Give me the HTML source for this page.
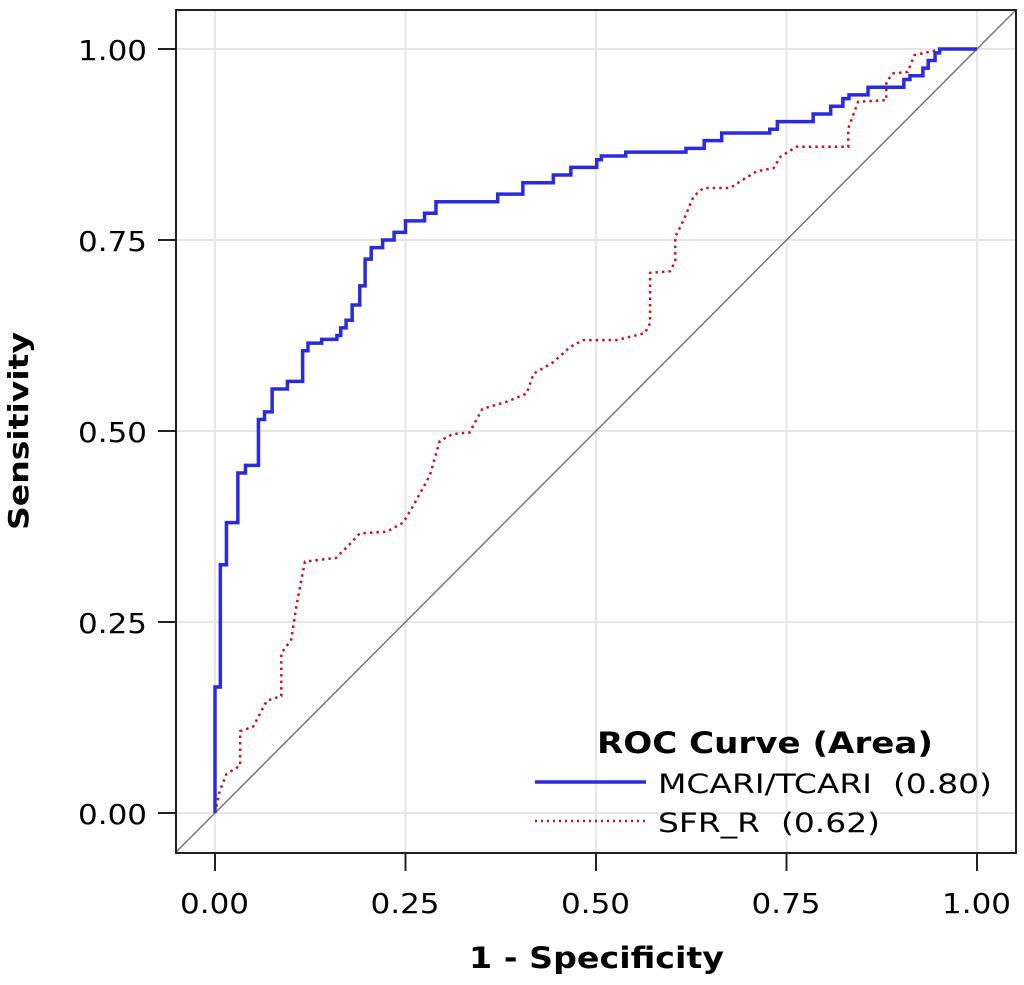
<!DOCTYPE html>
<html><head><meta charset="utf-8"><style>
html,body{margin:0;padding:0;background:#fff;}
svg{display:block;font-family:"DejaVu Sans","Liberation Sans",sans-serif;}
</style></head><body>
<svg id="chart" width="1024" height="985" viewBox="0 0 1024 985">
<rect x="176" y="10" width="840" height="843" fill="#fff"/>
<g id="grid"></g>
<g id="ticks"></g>
<line id="diag" stroke="#777" stroke-width="1.5"/>
<polyline id="red" fill="none" stroke="#cc1122" stroke-width="2.5" stroke-dasharray="2.5,4"/>
<polyline id="blue" fill="none" stroke="#2a2ae0" stroke-width="3.5"/>
<rect x="176" y="10" width="840" height="843" fill="none" stroke="#222" stroke-width="2"/>
<text x="20" y="431" transform="rotate(-90 20 431)" text-anchor="middle" dominant-baseline="middle" font-size="28" font-weight="bold" textLength="198" lengthAdjust="spacingAndGlyphs">Sensitivity</text>
<text x="469" y="968" font-size="29" font-weight="bold" textLength="255" lengthAdjust="spacingAndGlyphs">1 - Specificity</text>
<g>
<text x="597" y="753" font-size="29" font-weight="bold" textLength="336" lengthAdjust="spacingAndGlyphs">ROC Curve (Area)</text>
<line x1="535" y1="782" x2="646" y2="782" stroke="#2a2ae0" stroke-width="3.5"/>
<text x="658" y="793" font-size="27" textLength="334" lengthAdjust="spacingAndGlyphs" xml:space="preserve">MCARI/TCARI  (0.80)</text>
<line x1="535" y1="821" x2="646" y2="821" stroke="#cc1122" stroke-width="2.5" stroke-dasharray="2,4"/>
<text x="658" y="832" font-size="27" textLength="222" lengthAdjust="spacingAndGlyphs" xml:space="preserve">SFR_R  (0.62)</text>
</g>
</svg>
<script>
const tickValues=[0,0.25,0.5,0.75,1];
const tickLabels=["0.00","0.25","0.50","0.75","1.00"];
const blueX=[0,0,0.007,0.015,0.03,0.04,0.057,0.065,0.075,0.095,0.115,0.122,0.14,0.16,0.165,0.172,0.18,0.19,0.197,0.205,0.22,0.235,0.25,0.275,0.29,0.371,0.404,0.444,0.467,0.501,0.507,0.539,0.618,0.642,0.665,0.728,0.738,0.785,0.808,0.824,0.832,0.857,0.904,0.912,0.929,0.936,0.945,0.951,1];
const blueY=[0,0.165,0.325,0.38,0.445,0.455,0.515,0.525,0.555,0.565,0.605,0.615,0.62,0.625,0.635,0.645,0.665,0.69,0.725,0.74,0.75,0.76,0.775,0.785,0.80,0.81,0.825,0.835,0.845,0.855,0.86,0.865,0.87,0.88,0.89,0.895,0.905,0.915,0.925,0.935,0.94,0.95,0.96,0.965,0.975,0.985,0.995,1.0,1.0];
const redX=[0,0.006,0.015,0.033,0.033,0.05,0.068,0.087,0.087,0.1,0.107,0.118,0.159,0.176,0.19,0.225,0.247,0.26,0.282,0.295,0.312,0.334,0.351,0.382,0.409,0.418,0.444,0.466,0.483,0.527,0.564,0.571,0.571,0.597,0.604,0.604,0.615,0.628,0.641,0.676,0.693,0.711,0.733,0.742,0.763,0.831,0.831,0.844,0.881,0.881,0.89,0.909,0.918,0.945,0.951,1];
const redY=[0,0.028,0.051,0.062,0.107,0.113,0.147,0.153,0.209,0.227,0.272,0.329,0.334,0.351,0.366,0.368,0.38,0.402,0.442,0.487,0.496,0.498,0.529,0.538,0.549,0.575,0.59,0.61,0.619,0.619,0.628,0.641,0.707,0.709,0.722,0.754,0.776,0.807,0.818,0.818,0.829,0.84,0.844,0.859,0.872,0.872,0.896,0.931,0.933,0.957,0.968,0.97,0.992,0.998,1,1];
const NS='http://www.w3.org/2000/svg';
function sx(v){return 215+v*762;}
function sy(v){return 813-v*764;}
const grid=document.getElementById('grid'),ticks=document.getElementById('ticks');
tickValues.forEach((v,i)=>{
 let gv=document.createElementNS(NS,'line');
 
 
 gv.setAttribute('x1',sx(v));gv.setAttribute('x2',sx(v));gv.setAttribute('y1',10);gv.setAttribute('y2',853);
 gv.setAttribute('stroke','#e6e6e6');gv.setAttribute('stroke-width','2');grid.appendChild(gv);
 let gh=document.createElementNS(NS,'line');
 
 
 gh.setAttribute('y1',sy(v));gh.setAttribute('y2',sy(v));gh.setAttribute('x1',176);gh.setAttribute('x2',1016);
 gh.setAttribute('stroke','#e6e6e6');gh.setAttribute('stroke-width','2');grid.appendChild(gh);
 let mx=document.createElementNS(NS,'line');
 
 
 mx.setAttribute('x1',sx(v));mx.setAttribute('x2',sx(v));mx.setAttribute('y1',853);mx.setAttribute('y2',871);
 mx.setAttribute('stroke','#222');mx.setAttribute('stroke-width','2');ticks.appendChild(mx);
 let my=document.createElementNS(NS,'line');
 
 
 my.setAttribute('y1',sy(v));my.setAttribute('y2',sy(v));my.setAttribute('x1',158);my.setAttribute('x2',176);
 my.setAttribute('stroke','#222');my.setAttribute('stroke-width','2');ticks.appendChild(my);
 let tx=document.createElementNS(NS,'text');
 
 
 tx.setAttribute('x',sx(v)-35);tx.setAttribute('y',913);tx.setAttribute('font-size','28');
 tx.setAttribute('textLength','69');tx.setAttribute('lengthAdjust','spacingAndGlyphs');
 tx.textContent=tickLabels[i];ticks.appendChild(tx);
 let ty=document.createElementNS(NS,'text');
 
 
 ty.setAttribute('x',78);ty.setAttribute('y',sy(v)+11);ty.setAttribute('font-size','28');
 ty.setAttribute('textLength','69');ty.setAttribute('lengthAdjust','spacingAndGlyphs');
 ty.textContent=tickLabels[i];ticks.appendChild(ty);
});
const d=document.getElementById('diag');
d.setAttribute('x1',176);d.setAttribute('y1',sy((176-215)/762));d.setAttribute('x2',1016);d.setAttribute('y2',sy((1016-215)/762));
function pts(xs,ys){return xs.map((x,i)=>sx(x)+','+sy(ys[i])).join(' ');}
function steps(xs,ys){let p=[];for(let i=0;i<xs.length;i++){if(i>0)p.push(sx(xs[i])+','+sy(ys[i-1]));p.push(sx(xs[i])+','+sy(ys[i]));}return p.join(' ');}
document.getElementById('blue').setAttribute('points',steps(blueX,blueY));
document.getElementById('red').setAttribute('points',pts(redX,redY));
</script>
</body></html>
